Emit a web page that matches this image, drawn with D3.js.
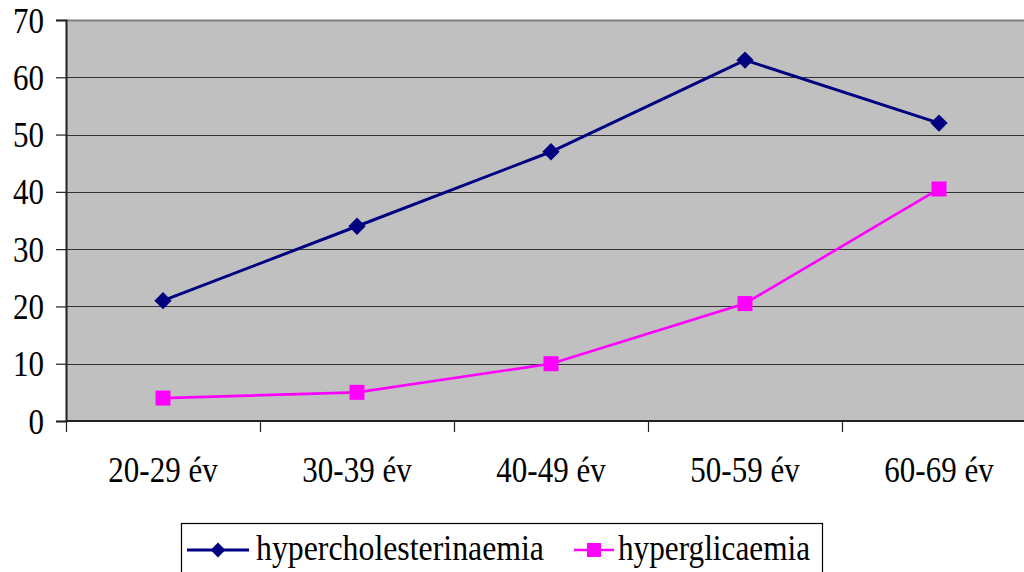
<!DOCTYPE html>
<html>
<head>
<meta charset="utf-8">
<script src="https://cdn.jsdelivr.net/npm/d3@7"></script>
<style>
  html, body { margin: 0; padding: 0; background: #fff; }
  svg { display: block; }
  text { font-family: "Liberation Serif", "Times New Roman", serif; fill: #000; }
</style>
</head>
<body>
<svg id="chart" width="1024" height="572"></svg>
<script>
// Age groups and prevalence values (%)
const categories = ["20-29 év", "30-39 év", "40-49 év", "50-59 év", "60-69 év"];
const hypercholesterinaemia = [21, 34, 47, 63, 52];
const hyperglicaemia = [4, 5, 10, 20.5, 40.5];
const yTicks = [0, 10, 20, 30, 40, 50, 60, 70];
const seriesNames = ["hypercholesterinaemia", "hyperglicaemia"];

const svg = d3.select("#chart");
const plot = { left: 66, right: 1036, top: 20, bottom: 421 };
const stretch = 1.18; // tall, narrow lettering

const x = d3.scaleBand().domain(categories).range([plot.left, plot.right]).padding(0);
const y = d3.scaleLinear().domain([0, 70]).range([plot.bottom, plot.top]);
const cx = d => x(d) + x.bandwidth() / 2;

// Plot background
svg.append("rect")
  .attr("x", plot.left).attr("y", plot.top)
  .attr("width", plot.right - plot.left).attr("height", plot.bottom - plot.top)
  .attr("fill", "#c0c0c0");

// Horizontal gridlines
svg.append("g").selectAll("line").data(yTicks.slice(1)).join("line")
  .attr("x1", plot.left).attr("x2", plot.right)
  .attr("y1", d => Math.round(y(d)) + 0.5).attr("y2", d => Math.round(y(d)) + 0.5)
  .attr("stroke", d => d === 70 ? "#808080" : "#333")
  .attr("stroke-width", d => d === 70 ? 2 : 1);

// Y axis
const yAxis = svg.append("g")
  .attr("transform", `translate(${plot.left},0)`)
  .call(d3.axisLeft(y).tickValues(yTicks).tickSize(10).tickPadding(12).tickFormat(d3.format("d")));
yAxis.select(".domain").attr("stroke", "#222").attr("stroke-width", 2);
yAxis.selectAll(".tick line").attr("stroke", "#222").attr("stroke-width", 1.2);
yAxis.selectAll("text")
  .attr("font-size", 31).attr("font-family", "Liberation Serif").attr("fill", "#000")
  .attr("dy", "0.33em")
  .attr("transform", `scale(1,${stretch})`);

// X axis: labels centred in bands, ticks at band boundaries
const xAxis = svg.append("g")
  .attr("transform", `translate(0,${plot.bottom})`)
  .call(d3.axisBottom(x).tickSize(0));
xAxis.select(".domain").remove();
xAxis.selectAll("text")
  .attr("font-size", 31).attr("font-family", "Liberation Serif").attr("fill", "#000")
  .attr("y", 0).attr("dy", 0)
  .attr("transform", `translate(0,61) scale(1,${stretch})`);
svg.append("line")
  .attr("x1", plot.left).attr("x2", plot.right)
  .attr("y1", plot.bottom).attr("y2", plot.bottom)
  .attr("stroke", "#222").attr("stroke-width", 2);
svg.append("g").selectAll("line").data(categories).join("line")
  .attr("x1", d => x(d) + 0.5).attr("x2", d => x(d) + 0.5)
  .attr("y1", plot.bottom).attr("y2", plot.bottom + 11)
  .attr("stroke", "#222").attr("stroke-width", 1.2);

// Series lines
const line = d3.line().x((d, i) => cx(categories[i])).y(d => y(d));
svg.append("path").datum(hypercholesterinaemia)
  .attr("d", line).attr("fill", "none").attr("stroke", "#000080").attr("stroke-width", 3);
svg.append("path").datum(hyperglicaemia)
  .attr("d", line).attr("fill", "none").attr("stroke", "#ff00ff").attr("stroke-width", 2.6);

// Markers
const diamond = d3.symbol().type(d3.symbolSquare).size(150);
svg.append("g").selectAll("path").data(hypercholesterinaemia).join("path")
  .attr("d", diamond())
  .attr("transform", (d, i) => `translate(${cx(categories[i])},${y(d)}) rotate(45)`)
  .attr("fill", "#000080");
svg.append("g").selectAll("rect").data(hyperglicaemia).join("rect")
  .attr("x", (d, i) => cx(categories[i]) - 7.5).attr("y", d => y(d) - 7.5)
  .attr("width", 15).attr("height", 15).attr("fill", "#ff00ff");

// Legend
const legend = svg.append("g");
legend.append("rect")
  .attr("x", 181.5).attr("y", 523.5).attr("width", 641).attr("height", 60)
  .attr("fill", "#fff").attr("stroke", "#000").attr("stroke-width", 1.2);
const ly = 550;
legend.append("line").attr("x1", 187).attr("x2", 249).attr("y1", ly).attr("y2", ly)
  .attr("stroke", "#000080").attr("stroke-width", 3);
legend.append("path").attr("d", d3.symbol().type(d3.symbolSquare).size(110)())
  .attr("transform", `translate(218,${ly}) rotate(45)`).attr("fill", "#000080");
legend.append("text")
  .attr("transform", `translate(256,${ly + 10}) scale(1,${stretch})`)
  .attr("font-size", 30).attr("textLength", 288).attr("lengthAdjust", "spacingAndGlyphs")
  .text(seriesNames[0]);
legend.append("line").attr("x1", 574).attr("x2", 614).attr("y1", ly).attr("y2", ly)
  .attr("stroke", "#ff00ff").attr("stroke-width", 2.6);
legend.append("rect").attr("x", 587).attr("y", ly - 7).attr("width", 14).attr("height", 14)
  .attr("fill", "#ff00ff");
legend.append("text")
  .attr("transform", `translate(618,${ly + 10}) scale(1,${stretch})`)
  .attr("font-size", 30).attr("textLength", 192).attr("lengthAdjust", "spacingAndGlyphs")
  .text(seriesNames[1]);
</script>
</body>
</html>
